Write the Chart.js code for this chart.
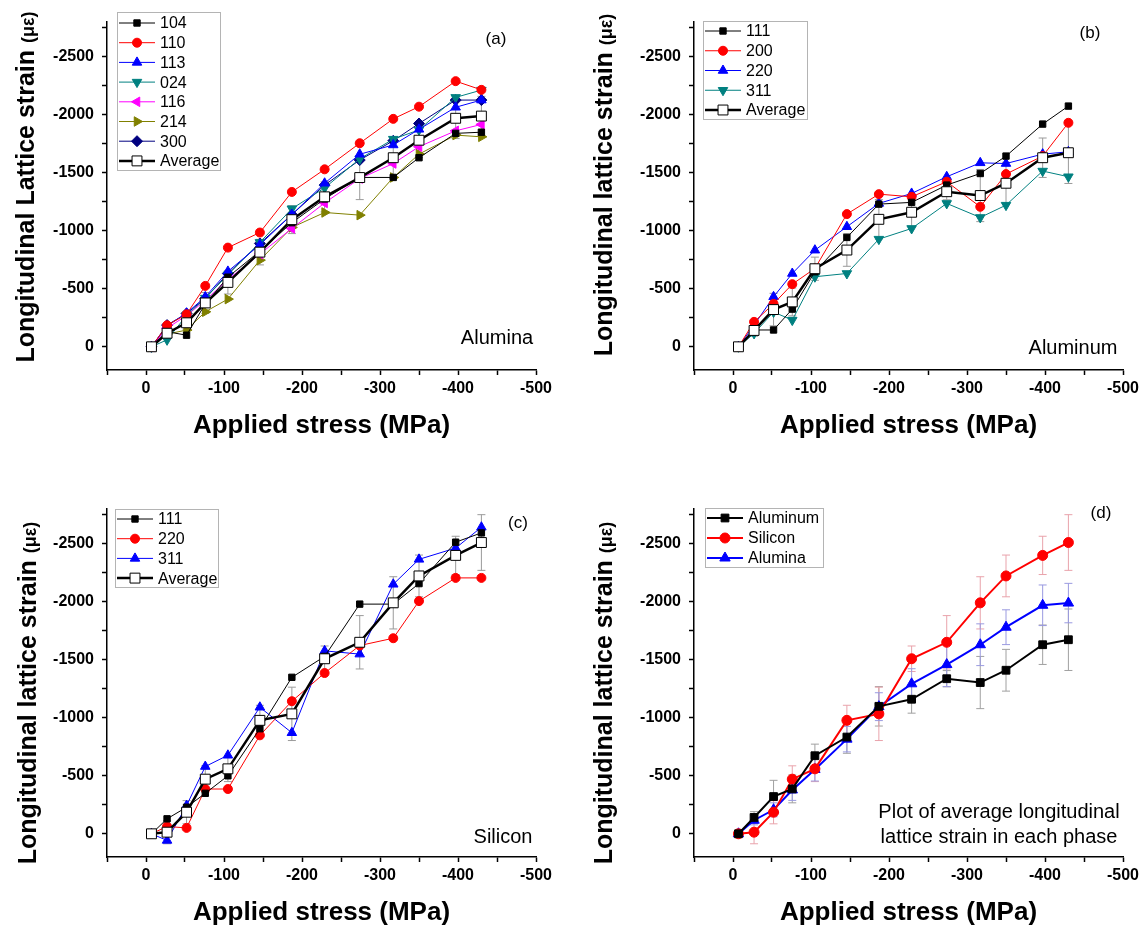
<!DOCTYPE html>
<html>
<head>
<meta charset="utf-8">
<script src="https://cdn.jsdelivr.net/npm/chart.js@4.4.1/dist/chart.umd.min.js"></script>
<style>
body{margin:0;background:#fff;}
#wrap{position:relative;width:1146px;height:928px;}
#wrap canvas{position:absolute;}
</style>
</head>
<body>
<div id="wrap">
<canvas id="chA" width="573" height="464" style="left:0;top:0"></canvas>
<canvas id="chB" width="573" height="464" style="left:573px;top:0"></canvas>
<canvas id="chC" width="573" height="464" style="left:0;top:464px"></canvas>
<canvas id="chD" width="573" height="464" style="left:573px;top:464px"></canvas>
</div>
<script>
// applied stress (MPa), same loading steps for every panel
var stress = [-7, -27, -52, -76, -105, -146, -187, -229, -274, -317, -350, -397, -430];

// (a) Alumina reflections
var a104 = [0, -130, -100, -370, -600, -825, -1070, -1275, -1460, -1460, -1630, -1840, -1850];
var a110 = [0, -185, -280, -525, -855, -985, -1335, -1530, -1755, -1965, -2070, -2290, -2215];
var a113 = [0, -180, -290, -430, -650, -880, -1140, -1410, -1660, -1740, -1875, -2065, -2127];
var a024 = [0, -60, -270, -420, -620, -900, -1190, -1370, -1620, -1790, -1870, -2150, -2213];
var a116 = [0, -160, -270, -400, -580, -800, -1020, -1240, -1450, -1580, -1725, -1862, -1917];
var a214 = [0, -110, -144, -302, -411, -747, -1029, -1158, -1135, -1460, -1661, -1825, -1810];
var a300 = [0, -187, -287, -417, -632, -891, -1140, -1394, -1610, -1776, -1925, -2127, -2127];

// (b) Aluminum reflections
var b111 = [0, -145, -145, -325, -647, -943, -1230, -1245, -1394, -1494, -1644, -1920, -2075];
var b200 = [0, -215, -370, -540, -675, -1144, -1316, -1293, -1423, -1207, -1489, -1644, -1931];
var b220 = [0, -187, -431, -632, -833, -1035, -1236, -1322, -1466, -1586, -1580, -1661, -1681];
var b311 = [0, -115, -300, -230, -604, -632, -928, -1020, -1236, -1115, -1221, -1515, -1466];

// (c) Silicon reflections
var c111 = [0, -129, -229, -349, -500, -906, -1349, -1529, -1980, -1980, -2157, -2514, -2594];
var c220 = [0, -63, -51, -386, -386, -849, -1143, -1386, -1623, -1686, -2006, -2206, -2206];
var c311 = [0, 57, -243, -580, -677, -1091, -871, -1577, -1549, -2151, -2366, -2463, -2643];

// phase averages and their error bars (used in the panels and in (d))
var aluminaAvg = [0, -117, -207, -378, -555, -816, -1096, -1293, -1459, -1630, -1781, -1970, -1989];
var aluminumAvg = [0, -141, -321, -387, -673, -834, -1099, -1160, -1337, -1304, -1410, -1630, -1673];
var siliconAvg = [0, -14, -186, -471, -560, -978, -1034, -1509, -1651, -1991, -2223, -2400, -2511];
var aluminaErr = [0, 40, 60, 90, 100, 110, 120, 130, 190, 180, 150, 175, 170];
var aluminumErr = [0, 50, 140, 120, 100, 140, 170, 120, 70, 225, 180, 170, 265];
var siliconErr = [0, 100, 100, 115, 110, 130, 230, 110, 230, 225, 180, 165, 240];

// tick marks: labelled every 500 / 100, minor ticks halfway
var yTicks = [-2750, -2500, -2250, -2000, -1750, -1500, -1250, -1000, -750, -500, -250, 0];
var xTicks = [50, 0, -50, -100, -150, -200, -250, -300, -350, -400, -450, -500];

var FONT = '"Liberation Sans", Arial, sans-serif';
Chart.defaults.font.family = FONT;
Chart.defaults.color = '#000';

function serie(label, vals, color, style, extra){
	return Object.assign({
		label: label,
		data: stress.map(function(x, i){ return {x: x, y: vals[i]}; }),
		showLine: true,
		borderColor: color,
		borderWidth: 1,
		pointStyle: style,
		pointRadius: 4.5,
		pointRotation: 0,
		pointBackgroundColor: color,
		pointBorderColor: color,
		pointBorderWidth: 1,
		order: 1
	}, extra || {});
}

function average(vals, err){
	return serie('Average', vals, '#000', 'rect', {borderWidth: 2.5, pointRadius: 7, pointBackgroundColor: '#fff',
		order: 0, errorBars: err, errorColor: '#9a9a9a'});
}

// draws error bars, y title, notes and the boxed legend
function decor(cfg){
	return {
		id: 'decor',
		beforeDatasetsDraw: function(chart){
			var ctx = chart.ctx, ys = chart.scales.y;
			ctx.save();
			chart.data.datasets.forEach(function(ds, i){
				if(!ds.errorBars) return;
				var meta = chart.getDatasetMeta(i);
				ctx.strokeStyle = ds.errorColor;
				ctx.lineWidth = 1;
				meta.data.forEach(function(pt, j){
					var e = ds.errorBars[j];
					if(!e) return;
					var v = ds.data[j].y;
					var y1 = ys.getPixelForValue(v - e), y2 = ys.getPixelForValue(v + e);
					ctx.beginPath();
					ctx.moveTo(pt.x, y1); ctx.lineTo(pt.x, y2);
					ctx.moveTo(pt.x - 4, y1); ctx.lineTo(pt.x + 4, y1);
					ctx.moveTo(pt.x - 4, y2); ctx.lineTo(pt.x + 4, y2);
					ctx.stroke();
				});
			});
			ctx.restore();
		},
		afterDraw: function(chart){
			var ctx = chart.ctx;
			ctx.save();
			// y axis title, with the unit in a smaller size
			var t = cfg.yTitle;
			ctx.translate(t.x, t.y);
			ctx.rotate(-Math.PI / 2);
			var f1 = 'bold 25px ' + FONT, f2 = 'bold 18px ' + FONT;
			ctx.font = f1; var w1 = ctx.measureText(t.text).width;
			ctx.font = f2; var w2 = ctx.measureText('(\u03bc\u03b5)').width;
			var x0 = -(w1 + w2) / 2;
			ctx.fillStyle = '#000';
			ctx.textAlign = 'left';
			ctx.textBaseline = 'alphabetic';
			ctx.font = f1; ctx.fillText(t.text, x0, 9);
			ctx.font = f2; ctx.fillText('(\u03bc\u03b5)', x0 + w1, 9);
			ctx.restore();

			ctx.save();
			ctx.fillStyle = '#000';
			ctx.textAlign = 'center';
			ctx.textBaseline = 'middle';
			cfg.notes.forEach(function(n){
				ctx.font = n.size + 'px ' + FONT;
				ctx.fillText(n.text, n.x, n.y);
			});

			var L = cfg.legend;
			ctx.fillStyle = '#fff';
			ctx.fillRect(L.left, L.top, L.width, L.height);
			ctx.strokeStyle = '#b4b4b4';
			ctx.lineWidth = 1;
			ctx.strokeRect(L.left + 0.5, L.top + 0.5, L.width, L.height);
			chart.data.datasets.forEach(function(ds, i){
				var y = L.firstRow + i * L.rowH;
				ctx.strokeStyle = ds.borderColor;
				ctx.lineWidth = ds.borderWidth;
				ctx.beginPath(); ctx.moveTo(L.left + 2, y); ctx.lineTo(L.left + 38, y); ctx.stroke();
				ctx.fillStyle = ds.pointBackgroundColor;
				ctx.strokeStyle = ds.pointBorderColor;
				ctx.lineWidth = ds.pointBorderWidth;
				Chart.helpers.drawPoint(ctx, {pointStyle: ds.pointStyle, radius: ds.pointRadius,
					rotation: ds.pointRotation, borderWidth: ds.pointBorderWidth}, L.left + 20, y);
				ctx.fillStyle = '#000';
				ctx.font = '16px ' + FONT;
				ctx.textAlign = 'left';
				ctx.fillText(ds.label, L.left + 43, y + 1);
			});
			ctx.restore();
		}
	};
}

function panel(id, datasets, cfg){
	return new Chart(document.getElementById(id), {
		type: 'scatter',
		data: {datasets: datasets},
		options: {
			responsive: false,
			animation: false,
			devicePixelRatio: 1,
			events: [],
			layout: {padding: {top: cfg.top, right: cfg.right, bottom: 0, left: 0}},
			plugins: {legend: {display: false}, tooltip: {enabled: false}},
			scales: {
				x: {
					type: 'linear', reverse: true, min: -500, max: 50,
					afterFit: function(s){ s.height = cfg.xH; },
					afterBuildTicks: function(s){ s.ticks = xTicks.map(function(v){ return {value: v}; }); },
					border: {color: '#000', width: 1.5},
					grid: {drawOnChartArea: false, tickLength: 5, tickColor: '#000', tickWidth: 1.5},
					ticks: {autoSkip: false, maxRotation: 0, padding: 4,
						font: {size: 16, weight: 'bold'},
						callback: function(v){ return v % 100 === 0 ? String(v) : ''; }},
					title: {display: true, text: 'Applied stress (MPa)', font: {size: 26, weight: 'bold'},
						padding: {top: 0, bottom: cfg.xTitlePad}}
				},
				y: {
					type: 'linear', reverse: true, min: -2800, max: 200,
					afterFit: function(s){ s.width = cfg.yW; },
					afterBuildTicks: function(s){ s.ticks = yTicks.map(function(v){ return {value: v}; }); },
					border: {color: '#000', width: 1.5},
					grid: {drawOnChartArea: false, tickLength: 5, tickColor: '#000', tickWidth: 1.5},
					ticks: {autoSkip: false, padding: 8,
						font: {size: 16, weight: 'bold'},
						callback: function(v){ return v % 500 === 0 ? String(v) : ''; }}
				}
			}
		},
		plugins: [decor(cfg)]
	});
}

// (a) Alumina
panel('chA', [
	serie('104', a104, '#000000', 'rect', {pointRadius: 4.5}),
	serie('110', a110, '#ff0000', 'circle'),
	serie('113', a113, '#0000ff', 'triangle', {pointRadius: 5.5}),
	serie('024', a024, '#008080', 'triangle', {pointRadius: 5.5, pointRotation: 180}),
	serie('116', a116, '#ff00ff', 'triangle', {pointRadius: 5.5, pointRotation: 270}),
	serie('214', a214, '#808000', 'triangle', {pointRadius: 5.5, pointRotation: 90}),
	serie('300', a300, '#000080', 'rectRot', {pointRadius: 5.5}),
	average(aluminaAvg, aluminaErr)
], {top: 22, right: 37, yW: 107, xH: 94, xTitlePad: 23,
	yTitle: {text: 'Longitudinal Lattice strain ', x: 25, y: 187},
	notes: [{text: '(a)', x: 496, y: 39, size: 17}, {text: 'Alumina', x: 497, y: 338, size: 20}],
	legend: {left: 117, top: 12, width: 103, height: 158, firstRow: 23, rowH: 19.7}});

// (b) Aluminum
panel('chB', [
	serie('111', b111, '#000000', 'rect'),
	serie('200', b200, '#ff0000', 'circle'),
	serie('220', b220, '#0000ff', 'triangle', {pointRadius: 5.5}),
	serie('311', b311, '#008080', 'triangle', {pointRadius: 5.5, pointRotation: 180}),
	average(aluminumAvg, aluminumErr)
], {top: 22, right: 23, yW: 121, xH: 94, xTitlePad: 23,
	yTitle: {text: 'Longitudinal lattice strain ', x: 30, y: 185},
	notes: [{text: '(b)', x: 517, y: 33, size: 17}, {text: 'Aluminum', x: 500, y: 348, size: 20}],
	legend: {left: 130, top: 21, width: 104, height: 98, firstRow: 31, rowH: 19.75}});

// (c) Silicon
panel('chC', [
	serie('111', c111, '#000000', 'rect'),
	serie('220', c220, '#ff0000', 'circle'),
	serie('311', c311, '#0000ff', 'triangle', {pointRadius: 5.5}),
	average(siliconAvg, siliconErr)
], {top: 45, right: 37, yW: 107, xH: 71, xTitlePad: 0,
	yTitle: {text: 'Longitudinal lattice strain ', x: 27, y: 229},
	notes: [{text: '(c)', x: 518, y: 59, size: 17}, {text: 'Silicon', x: 503, y: 373, size: 20}],
	legend: {left: 115, top: 45, width: 103, height: 78, firstRow: 55, rowH: 19.7}});

// (d) phase averages
panel('chD', [
	serie('Aluminum', aluminumAvg, '#000000', 'rect', {borderWidth: 2, pointRadius: 5.5,
		errorBars: aluminumErr, errorColor: '#a0a0a0'}),
	serie('Silicon', siliconAvg, '#ff0000', 'circle', {borderWidth: 2, pointRadius: 5,
		errorBars: siliconErr, errorColor: '#e9a3ab'}),
	serie('Alumina', aluminaAvg, '#0000ff', 'triangle', {borderWidth: 2, pointRadius: 6,
		errorBars: aluminaErr, errorColor: '#9a9ae0'})
], {top: 45, right: 23, yW: 121, xH: 71, xTitlePad: 0,
	yTitle: {text: 'Longitudinal lattice strain ', x: 30, y: 229},
	notes: [{text: '(d)', x: 528, y: 49, size: 17},
		{text: 'Plot of average longitudinal', x: 426, y: 348, size: 20},
		{text: 'lattice strain in each phase', x: 426, y: 373, size: 20}],
	legend: {left: 132, top: 44, width: 118, height: 59, firstRow: 54, rowH: 20}});
</script>
</body>
</html>
